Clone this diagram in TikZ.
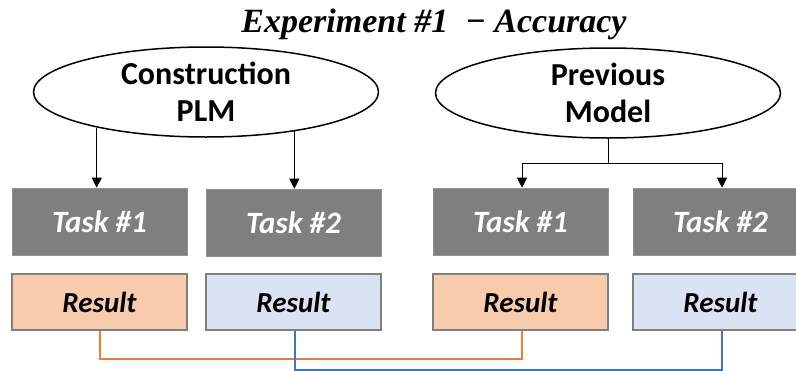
\documentclass[tikz,border=0pt]{standalone}
\usepackage{fontspec}
\setmainfont{Carlito}
\newfontfamily\titlefont{Liberation Serif}
\usetikzlibrary{shapes.geometric,arrows.meta}

\definecolor{taskgray}{HTML}{7F7F7F}
\definecolor{resorange}{HTML}{F8CBAD}
\definecolor{resblue}{HTML}{DAE3F3}
\definecolor{lineorange}{HTML}{ED7D31}
\definecolor{lineblue}{HTML}{4472C4}

\tikzset{
  model/.style={ellipse, draw=black, line width=1.5pt, fill=white,
    minimum width=345pt, minimum height=90pt, inner sep=0pt,
    align=center, font=\fontsize{32}{37}\selectfont\bfseries},
  taskbox/.style={rectangle, fill=taskgray, draw=taskgray!85!white, line width=0.6pt,
    minimum width=175pt, minimum height=67pt, inner sep=0pt,
    text=white, font=\fontsize{31}{34}\selectfont\bfseries\itshape},
  resultbox/.style={rectangle, draw=taskgray, line width=2pt,
    minimum width=175pt, minimum height=56pt, inner sep=0pt,
    text=black, font=\fontsize{29}{32}\selectfont\bfseries\itshape},
  feed/.style={draw=black, line width=0.9pt,
    -{Triangle[width=10pt,length=10pt]}},
  link/.style={line width=2pt}
}

\begin{document}
\begin{tikzpicture}[x=1pt,y=-1pt]
  \clip (0,0) rectangle (796,370);
  \fill[white] (0,0) rectangle (796,370);

  % heading
  \node (title) at (434,24)
    {\titlefont\fontsize{34}{38}\selectfont\bfseries\itshape Experiment \#1\ \ − Accuracy};

  % model sources
  \node[model] (e1) at (206,92) {Construction\\PLM};
  \node[model] (e2) at (608,93) {Previous\\Model};

  % task row
  \node[taskbox] (t1) at (99.5,221.5) {Task \#1};
  \node[taskbox] (t2) at (293.5,222.5) {Task \#2};
  \node[taskbox] (t3) at (520.5,221.5) {Task \#1};
  \node[taskbox] (t4) at (720.5,221.5) {Task \#2};

  % result row
  \node[resultbox, fill=resorange] (r1) at (99.5,302) {Result};
  \node[resultbox, fill=resblue]   (r2) at (293.5,302) {Result};
  \node[resultbox, fill=resorange] (r3) at (520.5,302) {Result};
  \node[resultbox, fill=resblue]   (r4) at (720.5,302) {Result};

  % construction PLM feeds both tasks directly
  \draw[feed] (e1.198) -- (e1.198 |- t1.north);
  \draw[feed] (e1.336) -- (e1.336 |- t2.north);

  % previous model splits into both tasks
  \coordinate (split) at (608,163);
  \draw[line width=0.9pt] (e2.south) -- (split);
  \draw[feed] (split) -| ([xshift=1.5pt]t3.north);
  \draw[feed] (split) -| ([xshift=1.5pt]t4.north);

  % result comparisons
  \draw[link, lineorange] ([xshift=0.5pt]r1.south) -- ++(0,28) -| ([xshift=1.5pt]r3.south);
  \draw[link, lineblue] ([xshift=1.5pt]r2.south) -- ++(0,39) -| ([xshift=1.5pt]r4.south);
\end{tikzpicture}
\end{document}
